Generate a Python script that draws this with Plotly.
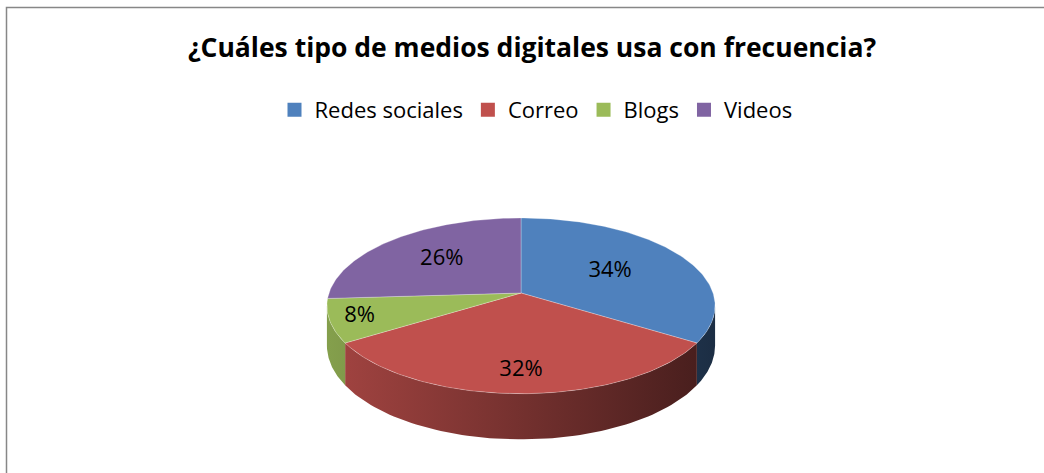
import numpy as np
import plotly.graph_objects as go

# ---------------- data ----------------
title_text = "¿Cuáles tipo de medios digitales usa con frecuencia?"
categories = ["Redes sociales", "Correo", "Blogs", "Videos"]
values = [34, 32, 8, 26]

# ---------------- style ----------------
top_colors = ["#4f81bd", "#c0504d", "#9bbb59", "#8064a2"]
label_r = [0.55, 0.80, 0.85, 0.60]   # radial position of the data labels (fraction of radius)
FONT = "'Open Sans', Lato, sans-serif"

W, H = 1044, 473
CX, CY = 521, 293        # pie centre (pixel units of the axes)
RX, RY, PERSP = 192, 86, 0.146
DEPTH = 39
SHADE_L, SHADE_R = 0.85, 0.36   # side lighting from left to right


def project(theta, r=1.0, drop=0.0):
    u = r * np.cos(theta)
    v = r * np.sin(theta)
    w = 1 + PERSP * v
    return CX + RX * u / w, CY - RY * v / w + drop / w


def scale_hex(hx, f):
    hx = hx.lstrip("#")
    rgb = [int(hx[i:i + 2], 16) for i in (0, 2, 4)]
    return "rgb(%d,%d,%d)" % tuple(int(round(c * f)) for c in rgb)


total = float(sum(values))
frac = np.array(values) / total
cum = np.concatenate([[0], np.cumsum(frac)])
t_start = np.pi / 2 - 2 * np.pi * cum[:-1]
t_end = np.pi / 2 - 2 * np.pi * cum[1:]

vis_lo = -np.pi + np.arcsin(PERSP)
vis_hi = -np.arcsin(PERSP)

fig = go.Figure()

# side walls (visible front part only)
for i in range(len(values)):
    lo = max(t_end[i], vis_lo)
    hi = min(t_start[i], vis_hi)
    if hi <= lo:
        continue
    th = np.linspace(lo, hi, 80)
    xt, yt = project(th)
    xb, yb = project(th[::-1], drop=DEPTH)
    xs = np.concatenate([xt, xb, xt[:1]])
    ys = np.concatenate([yt, yb, yt[:1]])
    fig.add_trace(go.Scatter(
        x=xs, y=ys, mode="lines", fill="toself", line=dict(width=0),
        fillgradient=dict(type="horizontal",
                          colorscale=[[0, scale_hex(top_colors[i], SHADE_L)],
                                      [1, scale_hex(top_colors[i], SHADE_R)]],
                          start=CX - RX, stop=CX + RX),
        hoverinfo="skip", showlegend=False))

# top faces
for i in range(len(values)):
    n = max(int(abs(t_start[i] - t_end[i]) / (2 * np.pi) * 360), 4)
    th = np.linspace(t_start[i], t_end[i], n)
    xa, ya = project(th)
    xs = np.concatenate([[CX], xa, [CX]])
    ys = np.concatenate([[CY], ya, [CY]])
    fig.add_trace(go.Scatter(
        x=xs, y=ys, mode="lines", fill="toself",
        fillcolor=top_colors[i],
        line=dict(width=0.8, color="rgba(255,255,255,0.35)"),
        hoverinfo="skip", showlegend=False))

# data labels
mid = (t_start + t_end) / 2
lx, ly = project(mid, r=np.array(label_r))
fig.add_trace(go.Scatter(
    x=lx, y=ly, mode="text",
    text=["%d%%" % round(f * 100) for f in frac],
    textfont=dict(family=FONT, size=22, color="#000000"),
    hoverinfo="skip", showlegend=False))

# legend entries
for i, c in enumerate(categories):
    fig.add_trace(go.Scatter(
        x=[None], y=[None], mode="markers", name=c,
        marker=dict(symbol="square", size=14, color=top_colors[i])))

fig.add_shape(type="rect", xref="x", yref="y", x0=6.5, y0=7.5, x1=W + 50, y1=H + 50,
              line=dict(color="#878787", width=1.5), fillcolor="rgba(0,0,0,0)", layer="above")

fig.update_layout(
    width=W, height=H,
    margin=dict(l=0, r=0, t=0, b=0, pad=0),
    paper_bgcolor="white", plot_bgcolor="white",
    xaxis=dict(range=[0, W], visible=False, fixedrange=True),
    yaxis=dict(range=[H, 0], visible=False, fixedrange=True),
    title=dict(text="<b>%s</b>" % title_text, x=532 / W, xanchor="center",
               y=1 - 48 / H, yanchor="middle",
               font=dict(family=FONT, size=26.5, color="#000000")),
    legend=dict(orientation="h", x=536 / W, xanchor="center", y=1 - 110 / H, yanchor="middle",
                font=dict(family=FONT, size=22, color="#000000"),
                bgcolor="rgba(0,0,0,0)", itemsizing="trace"),
    showlegend=True,
)

fig.write_html("out.html", config={"displayModeBar": False},
               post_script="document.body.style.margin='0px';")
